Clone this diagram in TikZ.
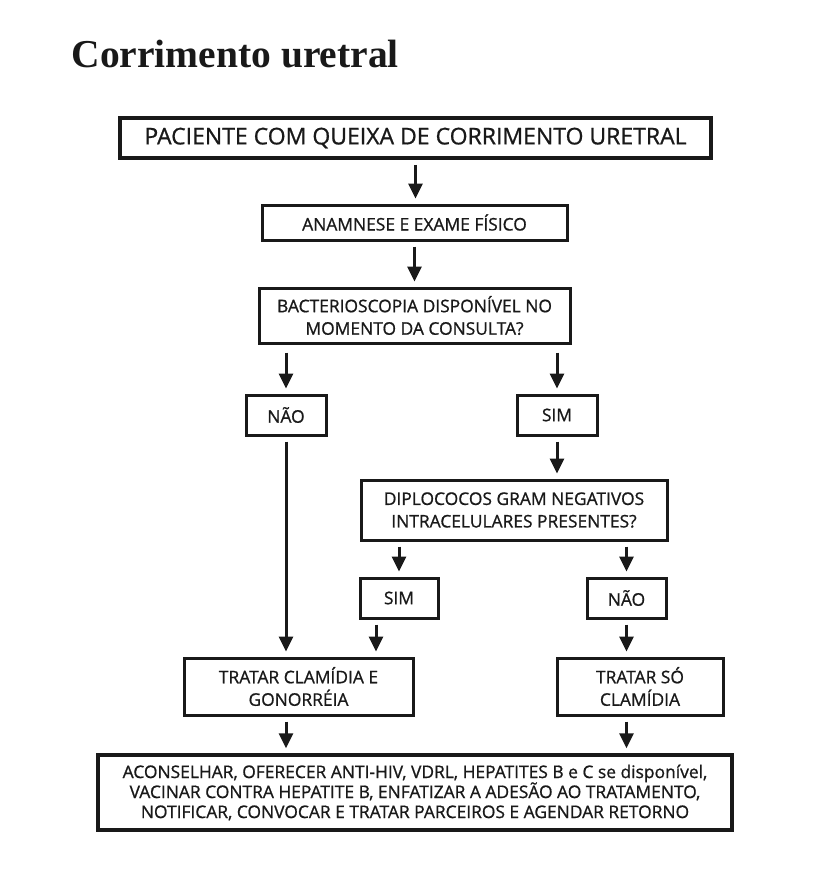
\documentclass[tikz,border=0pt]{standalone}
\usepackage{fontspec}
\setmainfont{Open Sans}[FakeBold=0.9]
\newfontfamily\titlefont{Liberation Serif}
\usetikzlibrary{arrows.meta,calc}
\begin{document}
\begin{tikzpicture}[x=1pt,y=-1pt,
  box/.style={draw=black!90,line width=3pt,inner sep=0pt,align=center,font=\fontsize{17.4}{22.5}\selectfont,text=black!90},
  arr/.style={line width=3pt,draw=black!90,-{Triangle[width=14pt,length=15pt]},shorten <=5pt,shorten >=5pt}]
\useasboundingbox (0,0) rectangle (815,870);
\node[anchor=base west,font=\titlefont\bfseries\fontsize{39.5}{42}\selectfont,text=black!90] (title) at (68,67) {Corrimento uretral};
\node[box,line width=3.5pt,minimum width=591pt,minimum height=40pt,font=\fontsize{23}{26}\selectfont] (n1) at (415.5,138) {PACIENTE COM QUEIXA DE CORRIMENTO URETRAL};
\node[box,minimum width=305pt,minimum height=35pt] (n2) at (414.5,222.5) {ANAMNESE E EXAME FÍSICO};
\node[box,minimum width=311pt,minimum height=55pt] (n3) at (414.5,315.5) {BACTERIOSCOPIA DISPONÍVEL NO\\MOMENTO DA CONSULTA?};
\node[box,minimum width=80pt,minimum height=40pt] (nao) at (286,415) {NÃO};
\node[box,minimum width=80pt,minimum height=40pt] (sim) at (557,415) {SIM};
\node[box,minimum width=306pt,minimum height=60pt] (dip) at (514,510) {DIPLOCOCOS GRAM NEGATIVOS\\INTRACELULARES PRESENTES?};
\node[box,minimum width=78pt,minimum height=40pt] (sim2) at (399,598) {SIM};
\node[box,minimum width=79pt,minimum height=40pt] (nao2) at (626.5,598) {NÃO};
\node[box,minimum width=229pt,minimum height=57pt] (t1) at (298.5,686.5) {TRATAR CLAMÍDIA E\\GONORRÉIA};
\node[box,minimum width=166pt,minimum height=57pt] (t2) at (640,686.5) {TRATAR SÓ\\CLAMÍDIA};
\node[box,line width=3.5pt,minimum width=634pt,minimum height=75pt,font=\fontsize{17.4}{20}\selectfont] (fin) at (415,792.5) {ACONSELHAR, OFERECER ANTI-HIV, VDRL, HEPATITES B e C se disponível,\\VACINAR CONTRA HEPATITE B, ENFATIZAR A ADESÃO AO TRATAMENTO,\\NOTIFICAR, CONVOCAR E TRATAR PARCEIROS E AGENDAR RETORNO};
\draw[arr] (n1.south) -- (n1.south |- n2.north);
\draw[arr] (n2.south) -- (n2.south |- n3.north);
\draw[arr,shorten <=8pt] (n3.south -| nao.north) -- (nao.north);
\draw[arr,shorten <=8pt] (n3.south -| sim.north) -- (sim.north);
\draw[arr] (sim.south) -- (sim.south |- dip.north);
\draw[arr] (dip.south -| sim2.north) -- (sim2.north);
\draw[arr] (dip.south -| nao2.north) -- (nao2.north);
\draw[arr] (nao.south) -- (nao.south |- t1.north);
\coordinate (s2o) at ([xshift=-23pt]sim2.south);
\draw[arr] (s2o) -- (s2o |- t1.north);
\draw[arr] (nao2.south) -- (nao2.south |- t2.north);
\draw[arr] (t1.south -| nao.south) -- (nao.south |- fin.north);
\draw[arr] (t2.south -| nao2.south) -- (nao2.south |- fin.north);
\end{tikzpicture}
\end{document}
